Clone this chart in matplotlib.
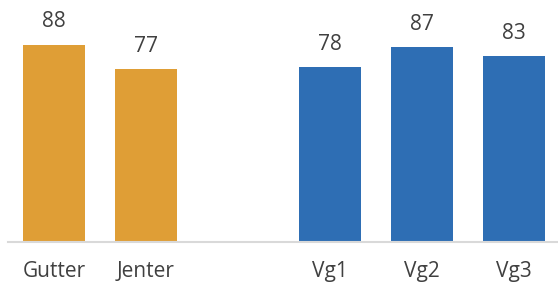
import matplotlib.pyplot as plt

# Values
categories = ['Gutter', 'Jenter', 'Vg1', 'Vg2', 'Vg3']
values = [88, 77, 78, 87, 83]
positions = [0, 1, 3, 4, 5]
colors = ['#DF9E36', '#DF9E36', '#2E6EB4', '#2E6EB4', '#2E6EB4']

plt.rcParams['font.family'] = ['Open Sans', 'DejaVu Sans']

fig = plt.figure(figsize=(5.58, 2.82), dpi=100)
ax = fig.add_axes([8 / 558, 40 / 282, 550 / 558, 242 / 282])

bars = ax.bar(positions, values, width=0.67, color=colors, zorder=2)
for b, v in zip(bars, values):
    ax.annotate(str(v), (b.get_x() + b.get_width() / 2, v), xytext=(0, 9),
                textcoords='offset points', ha='center', va='bottom',
                fontsize=15, color='#404040')

ax.set_xlim(-0.5, -0.5 + 550 / 92)
ax.set_ylim(0, 108)
ax.set_xticks(positions)
ax.set_xticklabels(categories, fontsize=15, color='#404040')
ax.tick_params(axis='x', length=0, pad=14)
ax.set_yticks([])
for side in ['top', 'right', 'left']:
    ax.spines[side].set_visible(False)
ax.spines['bottom'].set_color('#D9D9D9')
ax.spines['bottom'].set_linewidth(1.5)

fig.savefig('out.png', dpi=100)
